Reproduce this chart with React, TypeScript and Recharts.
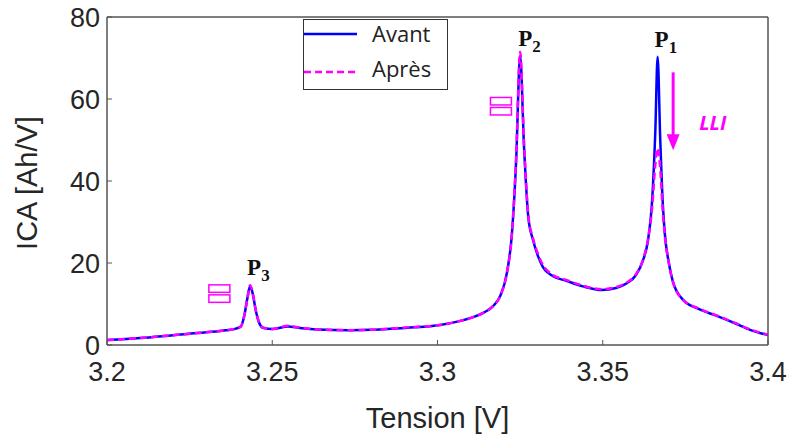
import React from 'react';
import { LineChart, Line, XAxis, YAxis, Legend, ReferenceArea, ReferenceDot, ReferenceLine } from 'recharts';

// incremental capacity curves
const voltage = [
  3.2, 3.21, 3.22, 3.23, 3.236, 3.239, 3.2405, 3.2415, 3.2425, 3.2433, 3.2441, 3.245, 3.246, 3.2472,
  3.25, 3.2548, 3.258, 3.2636, 3.2735, 3.28, 3.2887, 3.293, 3.3008, 3.306, 3.3108, 3.314, 3.3168, 3.319,
  3.321, 3.3225, 3.3238, 3.325, 3.3262, 3.3275, 3.3289, 3.3305, 3.3319, 3.3345, 3.3392, 3.344, 3.3497,
  3.354, 3.3574, 3.36, 3.3622, 3.3637, 3.365, 3.3659, 3.3666, 3.3674, 3.3682, 3.3688, 3.37, 3.3712,
  3.3743, 3.379, 3.3845, 3.39, 3.3946, 3.4,
];
const avant = [
  1.2, 1.7, 2.4, 3.1, 3.6, 4.0, 4.5, 7.0, 11.5, 14.4, 12.5, 8.5, 5.5, 4.2,
  3.9, 4.5, 4.2, 3.8, 3.6, 3.7, 4.1, 4.3, 4.9, 5.7, 6.8, 7.9, 9.5, 12,
  17.6, 27, 45, 70.5, 48, 31, 25.6, 21.5, 19, 17, 15.6, 14.3, 13.4,
  13.9, 15.1, 17, 20.7, 25.6, 36, 52, 70.3, 50, 34, 27, 20, 15.5,
  11, 8.8, 7.1, 5.3, 3.7, 2.4,
];
const apres = [
  1.2, 1.7, 2.4, 3.1, 3.6, 4.0, 4.5, 7.0, 11.5, 14.6, 12.6, 8.5, 5.5, 4.2,
  3.9, 4.7, 4.3, 3.8, 3.6, 3.7, 4.2, 4.4, 4.9, 5.7, 6.8, 7.9, 9.5, 12,
  17.6, 27, 46, 71.5, 49, 31.5, 26, 22, 19.5, 17.3, 15.8, 14.5, 13.6,
  14.1, 15.3, 17.2, 20.9, 25.8, 34, 44, 48, 43, 32, 26.5, 20, 15.5,
  11, 8.9, 7.2, 5.4, 3.8, 2.5,
];

const xTicks = [3.2, 3.25, 3.3, 3.35, 3.4];
const yTicks = [0, 20, 40, 60, 80];
const seriesOrder = ['avant', 'apres'];

const data = voltage.map((v, i) => ({ v, avant: avant[i], apres: apres[i] }));

// annotation anchors (peak voltages) and offsets of their labels
const peaks = [
  { sub: '3', v: 3.2433, dx: -3, dy: -10 },
  { sub: '2', v: 3.325, dx: -2, dy: -6 },
  { sub: '1', v: 3.3666, dx: -3, dy: -10 },
];
const tofu = [
  { v: 3.234, y: 12.6 },
  { v: 3.3192, y: 58.3 },
];
const lliArrow = { v: 3.3713, yTop: 66.5, yHead: 50.8, yTip: 47.5 };
const lliText = { v: 3.3792, y: 52.5 };

const BLUE = '#0000ff';
const MAGENTA = '#ff00ff';
const AXIS = '#555555';
const TEXT = '#262626';

const renderLegend = (props: any) => {
  const items = [...(props.payload || [])].sort(
    (a: any, b: any) => seriesOrder.indexOf(a.dataKey) - seriesOrder.indexOf(b.dataKey)
  );
  return (
    <svg width={145} height={71} style={{ display: 'block' }}>
      <rect x={0.5} y={0.5} width={144} height={70} fill="#fff" stroke="#333" strokeWidth={1} />
      {items.map((it: any, i: number) => (
        <g key={it.value}>
          <line
            x1={1}
            x2={54}
            y1={15 + i * 38}
            y2={15 + i * 38}
            stroke={it.color}
            strokeWidth={2.5}
            strokeDasharray={it.dataKey === 'apres' ? '7 4' : undefined}
          />
          <text x={69} y={23 + i * 35} fontFamily="Open Sans" fontSize={22} fill="#222">
            {it.value}
          </text>
        </g>
      ))}
    </svg>
  );
};

export default function App() {
  const peakY = (v: number) => Math.max(avant[voltage.indexOf(v)], apres[voltage.indexOf(v)]);
  return (
    <div style={{ position: 'absolute', left: 0, top: 0, background: '#fff' }}>
      <LineChart width={787} height={439} data={data} margin={{ top: 0, right: 0, bottom: 0, left: 0 }}>
        <XAxis
          dataKey="v"
          type="number"
          domain={[3.2, 3.4]}
          ticks={xTicks}
          height={94}
          stroke={AXIS}
          tickSize={-5}
          tickMargin={22}
          tick={{ fill: TEXT, fontSize: 27, fontFamily: 'Liberation Sans' }}
          label={{
            content: ({ viewBox }: any) => (
              <text
                x={viewBox.x + viewBox.width / 2}
                y={viewBox.y + 83}
                textAnchor="middle"
                fill={TEXT}
                fontSize={29}
                fontFamily="Liberation Sans"
              >
                Tension [V]
              </text>
            ),
          }}
        />
        <XAxis
          xAxisId="top"
          dataKey="v"
          type="number"
          orientation="top"
          domain={[3.2, 3.4]}
          ticks={xTicks}
          height={17}
          stroke={AXIS}
          tickSize={-5}
          tick={false}
        />
        <YAxis
          domain={[0, 80]}
          ticks={yTicks}
          width={107}
          stroke={AXIS}
          tickSize={-5}
          tickMargin={12}
          tick={{ fill: TEXT, fontSize: 27, fontFamily: 'Liberation Sans' }}
          label={{
            content: ({ viewBox }: any) => {
              const cy = viewBox.y + viewBox.height / 2 + 2;
              return (
                <text
                  x={37}
                  y={cy}
                  transform={`rotate(-90, 37, ${cy})`}
                  textAnchor="middle"
                  fill={TEXT}
                  fontSize={29}
                  fontFamily="Liberation Sans"
                >
                  ICA [Ah/V]
                </text>
              );
            },
          }}
        />
        <YAxis
          yAxisId="right"
          orientation="right"
          domain={[0, 80]}
          ticks={yTicks}
          width={19}
          stroke={AXIS}
          tickSize={-5}
          tick={false}
        />
        <Legend
          layout="horizontal"
          verticalAlign="middle"
          align="center"
          content={renderLegend}
          wrapperStyle={{ position: 'absolute', left: 303, top: 19, width: 145, height: 71 }}
        />
        <Line
          type="monotone"
          dataKey="avant"
          name="Avant"
          stroke={BLUE}
          strokeWidth={2.5}
          dot={false}
          isAnimationActive={false}
        />
        <Line
          type="monotone"
          dataKey="apres"
          name="Après"
          stroke={MAGENTA}
          strokeWidth={2.5}
          strokeDasharray="7 4"
          dot={false}
          isAnimationActive={false}
        />
        {peaks.map((p) => (
          <ReferenceDot
            key={p.sub}
            x={p.v}
            y={peakY(p.v)}
            r={0}
            ifOverflow="visible"
            shape={(s: any) => (
              <text
                x={s.cx + p.dx}
                y={s.cy + p.dy}
                fontFamily="Liberation Serif"
                fontWeight="bold"
                fontSize={23}
                fill="#111"
              >
                P
                <tspan dy={6} fontSize={17}>
                  {p.sub}
                </tspan>
              </text>
            )}
          />
        ))}
        {tofu.map((t) => (
          <ReferenceDot
            key={t.v}
            x={t.v}
            y={t.y}
            r={0}
            shape={(s: any) => (
              <g fill="none" stroke={MAGENTA} strokeWidth={1.5}>
                <rect x={s.cx - 10.5} y={s.cy - 8.5} width={21} height={7.5} />
                <rect x={s.cx - 10.5} y={s.cy + 1.5} width={21} height={7.5} />
              </g>
            )}
          />
        ))}
        <ReferenceLine
          segment={[
            { x: lliArrow.v, y: lliArrow.yTop },
            { x: lliArrow.v, y: lliArrow.yHead },
          ]}
          stroke={MAGENTA}
          strokeWidth={3}
        />
        <ReferenceDot
          x={lliArrow.v}
          y={lliArrow.yTip}
          r={0}
          shape={(s: any) => (
            <path d={`M${s.cx},${s.cy} L${s.cx - 6.5},${s.cy - 16} L${s.cx + 6.5},${s.cy - 16} Z`} fill={MAGENTA} />
          )}
        />
        <ReferenceDot
          x={lliText.v}
          y={lliText.y}
          r={0}
          shape={(s: any) => (
            <text
              x={s.cx}
              y={s.cy}
              fontFamily="Open Sans"
              fontWeight="bold"
              fontStyle="italic"
              fontSize={20}
              fill={MAGENTA}
            >
              LLI
            </text>
          )}
        />
        <ReferenceArea x1={3.2} x2={3.4} y1={0} y2={80} fill="none" stroke={AXIS} strokeWidth={1} />
      </LineChart>
    </div>
  );
}
